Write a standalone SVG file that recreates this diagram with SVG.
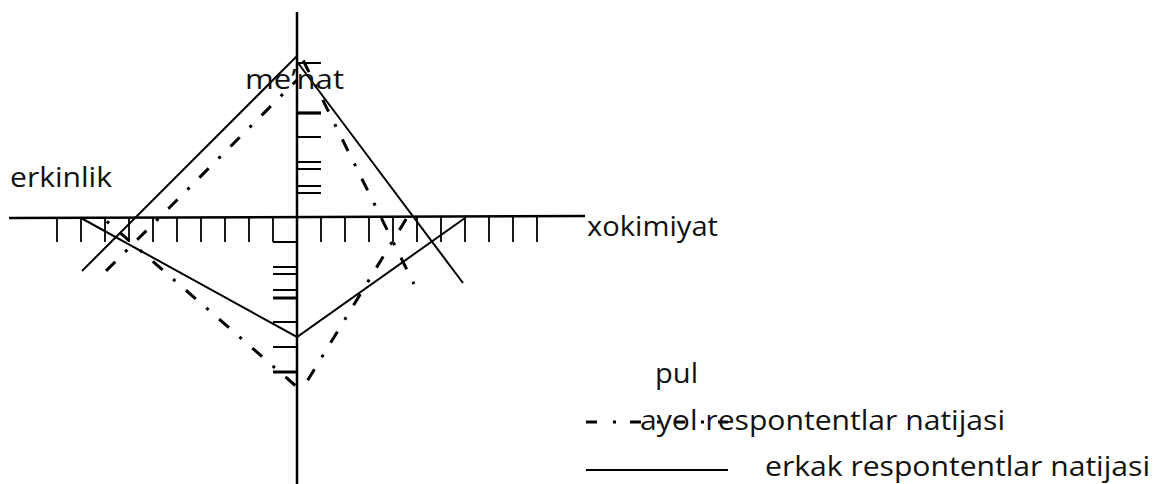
<svg xmlns="http://www.w3.org/2000/svg" width="1154" height="484" viewBox="0 0 1154 484">
<style>
.ax{stroke:#000;stroke-width:2.5;fill:none}
.tk{stroke:#000;stroke-width:1.8;fill:none}
.tb{stroke:#000;stroke-width:3.2;fill:none}
.solid{stroke:#000;stroke-width:2;fill:none}
.dd{stroke:#000;stroke-width:3;fill:none;stroke-dasharray:13 14 3 14}
.ld{stroke:#000;stroke-width:3;fill:none;stroke-dasharray:11 16 3 14}
text{font-family:"Open Sans","Liberation Sans",sans-serif;font-size:27px;fill:#111}
</style>
<rect width="1154" height="484" fill="#fff"/>
<g id="axes">
<path class="ax" d="M9,218 L585,216"/>
<path class="ax" d="M297,12 L297,484"/>
<path class="tk" d="M57,218V242M81,218V242M105,218V242M129,218V242M153,218V242M177,218V242M201,218V242M225,218V242M249,218V242M273,218V242M321,217V242M345,217V242M369,217V242M393,217V242M417,217V242M441,217V242M465,217V242M489,217V242M513,217V242M537,217V242"/>
<path class="tk" d="M297,63H321M297,137H321M297,162H321M297,169H321M297,186H321M297,193H321"/>
<path class="tb" d="M297,113H321"/>
<path class="tk" d="M273,242H297M273,267H297M273,274H297M273,290H297M273,322H297M273,347H297"/>
<path class="tb" d="M273,298H297M273,372H297"/>
</g>
<g id="connectors">
<g id="erkak">
<path class="solid" d="M297,56 L82,271"/>
<path class="solid" d="M298,63 L463,283"/>
<path class="solid" d="M81,218 L297,337 L465,218"/>
</g>
<g id="ayol">
<path class="dd" d="M297,80 L104,273" stroke-dashoffset="7"/>
<path class="dd" d="M301,56 L414,284" stroke-dashoffset="39"/>
<path class="dd" d="M103,218 L297,387" stroke-dashoffset="22"/>
<path class="dd" d="M303,388 L408,216" stroke-dashoffset="35"/>
</g>
</g>
<g id="node-menat"><text x="245" y="89" textLength="99" lengthAdjust="spacingAndGlyphs">me’nat</text></g>
<g id="node-erkinlik"><text x="10" y="187" textLength="102" lengthAdjust="spacingAndGlyphs">erkinlik</text></g>
<g id="node-xokimiyat"><text x="587" y="236" textLength="131" lengthAdjust="spacingAndGlyphs">xokimiyat</text></g>
<g id="node-pul"><text x="655" y="383" textLength="43" lengthAdjust="spacingAndGlyphs">pul</text></g>
<g id="legend">
<path class="ld" d="M586,422 L728,422"/>
<text x="640" y="430" textLength="365" lengthAdjust="spacingAndGlyphs">ayol respontentlar natijasi</text>
<path class="solid" d="M586,470 L728,470"/>
<text x="765" y="476" textLength="385" lengthAdjust="spacingAndGlyphs">erkak respontentlar natijasi</text>
</g>
</svg>
